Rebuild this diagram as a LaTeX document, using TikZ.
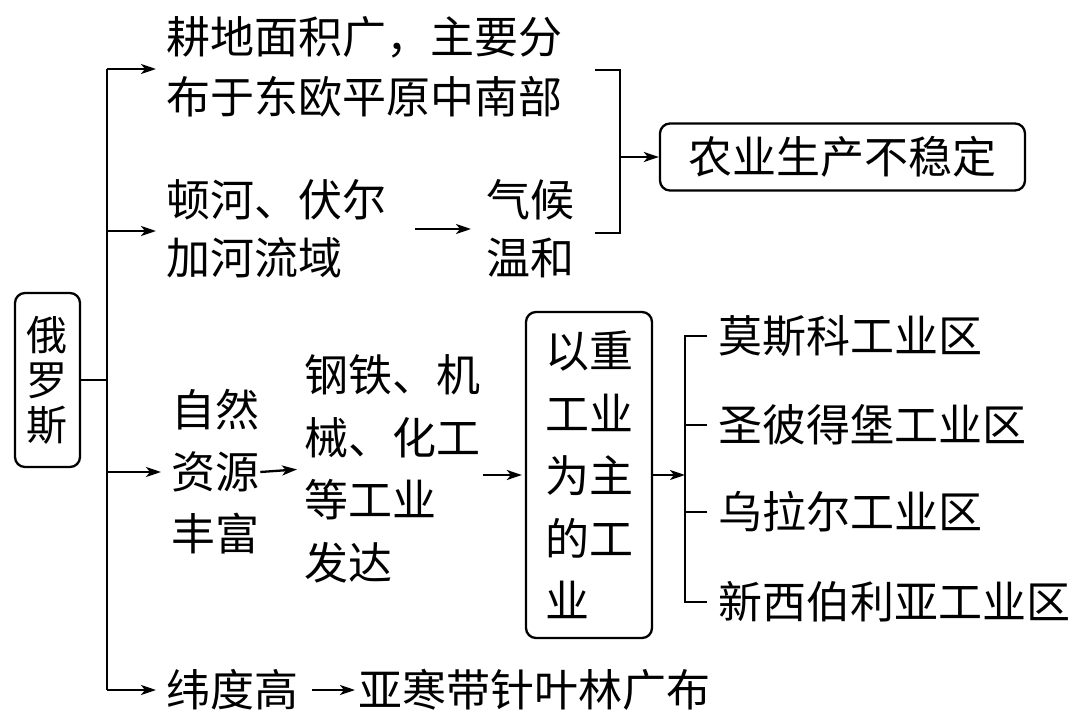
\documentclass[tikz,border=0pt]{standalone}
\usepackage{fontspec}
\newfontfamily\cjk{Noto Sans CJK SC}
\usetikzlibrary{positioning,arrows.meta,calc}

\begin{document}
\begin{tikzpicture}[x=1pt,y=-1pt,line width=2.3pt,
    txt/.style={font=\cjk\fontsize{44}{60}\selectfont,inner sep=0pt,align=left,anchor=west},
    rbox/.style={draw,rounded corners=10pt,inner sep=0pt,align=left,font=\cjk\fontsize{44}{62.5}\selectfont},
    arr/.style={-{Stealth[length=15pt,width=10pt,inset=4pt]}}]
  \useasboundingbox (0,0) rectangle (1080,720);

  \node[rbox,minimum width=65pt,minimum height=174pt,font=\cjk\fontsize{41}{45}\selectfont] (rus) at (47.5,380) {俄\\罗\\斯};

  \node[txt] (farm) at (165,67) {耕地面积广，主要分\\布于东欧平原中南部};
  \node[txt,font=\cjk\fontsize{44}{58}\selectfont] (river) at (165,229) {顿河、伏尔\\加河流域};
  \node[txt,font=\cjk\fontsize{44}{58}\selectfont] (clim) at (485,229) {气候\\温和};
  \node[rbox,minimum width=365pt,minimum height=67pt] (agri) at (842.5,157) {农业生产不稳定};

  \node[txt,font=\cjk\fontsize{44}{62}\selectfont] (res) at (170,472) {自然\\资源\\丰富};
  \node[txt,font=\cjk\fontsize{44}{62.5}\selectfont] (steel) at (303,469) {钢铁、机\\械、化工\\等工业\\发达};
  \node[rbox,minimum width=126pt,minimum height=326pt] (heavy) at (589,475) {以重\\工业\\为主\\的工\\业};

  \node[txt] (m1) at (717,336) {莫斯科工业区};
  \node[txt] (m2) at (717,425) {圣彼得堡工业区};
  \node[txt] (m3) at (717,512) {乌拉尔工业区};
  \node[txt] (m4) at (717,602) {新西伯利亚工业区};

  \node[txt] (lat) at (165,690) {纬度高};
  \node[txt] (taiga) at (357,690) {亚寒带针叶林广布};

  \coordinate (t1) at (107,69);
  \coordinate (t2) at (107,231);
  \coordinate (t3) at (107,472);
  \coordinate (t4) at (107,690);
  \draw (rus.east) -- (rus.east -| t1);
  \draw (t1) -- (t4);
  \foreach \a/\b in {t1/farm,t2/river,t3/res,t4/lat}
    \draw[arr,shorten >=9pt] (\a) -- (\a -| \b.west);

  \draw[arr,shorten <=28pt,shorten >=14pt] (river.east) -- (clim.west);
  \coordinate (qtop) at (595,70);
  \coordinate (qbot) at (595,233);
  \draw (qtop) -- ++(25,0) |- (qbot);
  \coordinate (qmid) at (620,157);
  \draw[arr] (qmid) -- (agri.west);

  \draw[arr,shorten <=0pt,shorten >=6pt] (res.east) -- (steel.west);
  \draw[arr,shorten <=2pt,shorten >=3pt] (steel.east |- heavy.west) -- (heavy.west);

  \coordinate (ktop) at ([xshift=-32pt]m1.west);
  \coordinate (kbot) at ([xshift=-32pt]m4.west);
  \draw ([xshift=-10pt]m1.west) -- (ktop) -- (kbot) -- ([xshift=-10pt]m4.west);
  \foreach \m in {m2,m3}
    \draw ([xshift=-10pt]\m.west) -- ([xshift=-32pt]\m.west);
  \draw[arr] (heavy.east) -- (heavy.east -| ktop);

  \draw[arr,shorten <=13pt,shorten >=2pt] (lat.east) -- (taiga.west);
\end{tikzpicture}
\end{document}
